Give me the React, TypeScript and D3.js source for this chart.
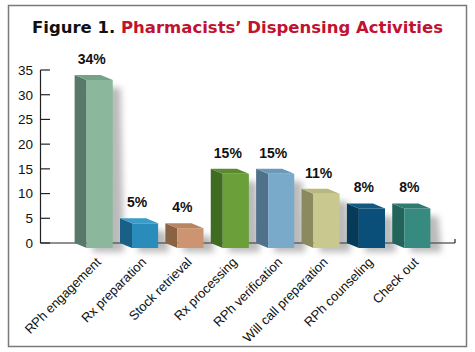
import React from "react";
import * as d3 from "d3";

const categories = [
  "RPh engagement",
  "Rx preparation",
  "Stock retrieval",
  "Rx processing",
  "RPh verification",
  "Will call preparation",
  "RPh counseling",
  "Check out",
];
const values = [34, 5, 4, 15, 15, 11, 8, 8];
const yTicks = [0, 5, 10, 15, 20, 25, 30, 35];
const frontColors = ["#8bb89c", "#2a8cba", "#cc9470", "#6a9f39", "#7aaaca", "#c9c88f", "#0a4f79", "#368a7f"];
const sideColors = ["#58796a", "#1a5f86", "#8a6244", "#3f6b22", "#4f7189", "#8a8a5e", "#063a59", "#22645b"];
const topColors = ["#76a388", "#3b9bc8", "#b98462", "#5b8b31", "#6b99b9", "#b8b87e", "#125a82", "#2f7b70"];

const W = 475;
const H = 352;

export default function App() {
  const x = d3.scaleBand<string>().domain(categories).range([71, 434]).paddingInner(0.16).paddingOuter(0.08);
  const y = d3.scaleLinear().domain([0, 35]).range([243, 70]);
  const depthX = 12;
  const depthY = 5;
  const floorY = y(0);
  const font = "'Liberation Sans', Arial, Helvetica, sans-serif";

  return (
    <svg width={W} height={H} style={{ position: "absolute", left: 0, top: 0 }}>
      <defs>
        <filter id="shadow" x="-50%" y="-50%" width="200%" height="200%">
          <feGaussianBlur stdDeviation="3" />
        </filter>
      </defs>
      <rect x={0} y={0} width={W} height={H} fill="#fff" />
      <rect x={8.5} y={5.5} width={458} height={341} fill="#fff" stroke="#7a7a7a" strokeWidth={1.5} />
      <text
        x={32}
        y={33}
        textLength={411}
        lengthAdjust="spacingAndGlyphs"
        fontFamily="'DejaVu Sans', 'Liberation Sans', sans-serif"
        fontWeight="bold"
        fontSize={15.5}
      >
        <tspan fill="#111">Figure 1. </tspan>
        <tspan fill="#c1122f">Pharmacists’ Dispensing Activities</tspan>
      </text>

      {/* y axis */}
      <line x1={40.5} x2={40.5} y1={y(35)} y2={floorY} stroke="#222" strokeWidth={1.2} />
      {yTicks.map((t) => (
        <g key={t}>
          <line x1={40.5} x2={50} y1={y(t)} y2={y(t)} stroke="#222" strokeWidth={1.2} />
          <text x={33} y={y(t)} dy="0.36em" textAnchor="end" fontFamily={font} fontSize={13.5} fill="#111">
            {t}
          </text>
        </g>
      ))}
      {/* x axis */}
      <line x1={40.5} x2={455} y1={floorY} y2={floorY} stroke="#222" strokeWidth={1.2} />
      <line x1={455} x2={455} y1={floorY - 4} y2={floorY} stroke="#222" strokeWidth={1.2} />

      {categories.map((c, i) => {
        const bx = x(c) as number;
        const bw = x.bandwidth();
        const fw = bw - depthX;
        const fx = bx + depthX;
        const yv = y(values[i]);
        const fb = floorY + depthY;
        return (
          <g key={c}>
            <polygon
              points={`${fx + 6},${yv + depthY + 6} ${fx + fw + 8},${yv + depthY + 8} ${fx + fw + 11},${fb + 4} ${fx + 6},${fb + 4}`}
              fill="#555"
              opacity={0.4}
              filter="url(#shadow)"
            />
            <polygon
              points={`${bx},${yv} ${fx},${yv + depthY} ${fx},${fb} ${bx},${floorY}`}
              fill={sideColors[i]}
            />
            <rect x={fx} y={yv + depthY} width={fw} height={fb - yv - depthY} fill={frontColors[i]} />
            <polygon
              points={`${bx},${yv} ${bx + fw},${yv} ${fx + fw},${yv + depthY} ${fx},${yv + depthY}`}
              fill={topColors[i]}
            />
            <text
              x={bx + bw / 2 - 2}
              y={yv - 11}
              textAnchor="middle"
              fontFamily={font}
              fontWeight="bold"
              fontSize={14}
              fill="#111"
            >
              {values[i]}%
            </text>
            <text
              transform={`translate(${fx + fw / 2 + 2},${floorY + 20}) rotate(-45)`}
              textAnchor="end"
              fontFamily="'Liberation Sans Narrow', 'Liberation Sans', Arial, sans-serif"
              fontSize={13}
              fill="#111"
            >
              {c}
            </text>
          </g>
        );
      })}
    </svg>
  );
}
